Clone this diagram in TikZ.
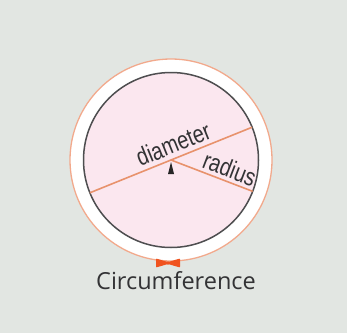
\documentclass[tikz,border=0pt]{standalone}
\usepackage{fontspec}
\setmainfont{Open Sans}
\newfontfamily\chordfont[FakeStretch=0.8]{Liberation Sans}
\usepackage{tikz}
\usetikzlibrary{calc}
\definecolor{Backdrop}{HTML}{E2E6E2}
\definecolor{RingPeach}{HTML}{F2A98C}
\definecolor{DiscPink}{HTML}{FBE7EF}
\definecolor{RimGray}{HTML}{4E4E50}
\definecolor{ChordOrange}{HTML}{E8926C}
\definecolor{LabelGray}{HTML}{333335}
\definecolor{BowRed}{HTML}{F0531F}

\begin{document}
\begin{tikzpicture}[x=1pt,y=1pt]
  \tikzstyle{chordlabel}=[font=\chordfont\fontsize{25}{25}\selectfont,text=LabelGray,inner sep=0pt]
  \fill[Backdrop] (0,0) rectangle (347,333);
  \useasboundingbox (0,0) rectangle (347,333);
  \coordinate (O) at (171,173);
  % ring and disc
  \fill[white] (O) circle (101);
  \draw[RingPeach,line width=1.3pt] (O) circle (101);
  \fill[DiscPink] (O) circle (87.5);
  \draw[RimGray,line width=1.5pt] (O) circle (87.5);
  \coordinate (dl) at ($(O)+(202:87.5)$);
  \coordinate (dr) at ($(O)+(22:87.5)$);
  \coordinate (rr) at ($(O)+(-21:87.5)$);
  \draw[ChordOrange,line width=1.6pt] (dl) -- (dr);
  \draw[ChordOrange,line width=1.6pt] (O) -- (rr);
  \fill[black!85] ($(O)+(-3,-14)$) -- ($(O)+(3,-14)$) -- ($(O)+(0,-2)$) -- cycle;
  \node[chordlabel,rotate=22] (diam) at ($(O)+(22:8)+(112:14)$) {diameter};
  \node[chordlabel,rotate=-21] (rad) at ($(O)+(-21:58)+(69:13)$) {radius};
  % bow on the rim
  \coordinate (bow) at (168,70);
  \fill[BowRed,rounded corners=0.8pt] ($(bow)+(-12,4.5)$) -- ($(bow)+(0,1)$) -- ($(bow)+(12,4.5)$)
    -- ($(bow)+(12,-4.5)$) -- ($(bow)+(0,-1)$) -- ($(bow)+(-12,-4.5)$) -- cycle;
  \fill[BowRed] (bow) circle (1.8);
  \node[font=\fontsize{23.5}{23.5}\selectfont,text=LabelGray,anchor=base,inner sep=0pt] (circ) at (176,44) {Circumference};
\end{tikzpicture}
\end{document}
